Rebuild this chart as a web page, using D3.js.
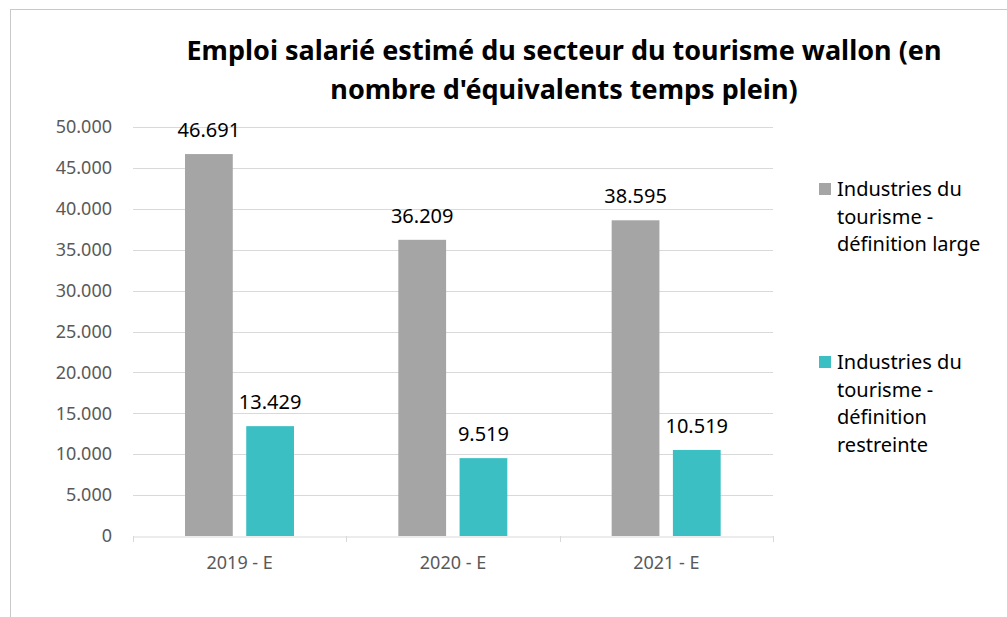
<!DOCTYPE html>
<html>
<head>
<meta charset="utf-8">
<script src="https://cdn.jsdelivr.net/npm/d3@7"></script>
<style>
  body { margin: 0; background: #fff; }
  svg { display: block; font-family: "Noto Sans", "Open Sans", sans-serif; }
</style>
</head>
<body>
<svg id="chart" width="1007" height="617"></svg>
<script>
// categories & series
const years = ["2019 - E", "2020 - E", "2021 - E"]
const seriesNames = ["Industries du tourisme - définition large", "Industries du tourisme - définition restreinte"]
const large = [46691, 36209, 38595]
const restreinte = [13429, 9519, 10519]
const yTicks = [0, 5000, 10000, 15000, 20000, 25000, 30000, 35000, 40000, 45000, 50000]
const titleLines = ["Emploi salarié estimé du secteur du tourisme wallon (en", "nombre d'équivalents temps plein)"]
const legendLines = [["Industries du", "tourisme -", "définition large"], ["Industries du", "tourisme -", "définition", "restreinte"]]

const colors = ["#a5a5a5", "#3bbfc3"]
const fmt = d3.format(",d")
const dotted = v => fmt(v).replace(/,/g, ".")

const svg = d3.select("#chart")

// outer frame of the chart object
svg.append("rect")
  .attr("x", 10.5).attr("y", 9.5)
  .attr("width", 1010).attr("height", 620)
  .attr("fill", "none").attr("stroke", "#c9c9c9")

// title
svg.append("text")
  .attr("text-anchor", "middle")
  .attr("font-weight", "bold")
  .attr("font-size", 27)
  .attr("fill", "#000")
  .selectAll("tspan")
  .data(titleLines)
  .join("tspan")
    .attr("x", 564)
    .attr("y", (d, i) => 60 + i * 39)
    .text(d => d)

const plot = { left: 133, right: 773, top: 127, bottom: 536 }

const x0 = d3.scaleBand().domain(years).range([plot.left, plot.right]).padding(0)
const x1 = d3.scaleBand().domain([0, 1]).range([52, 161]).paddingInner(0.22)
const y = d3.scaleLinear().domain([0, 50000]).range([plot.bottom, plot.top])

// gridlines
svg.append("g")
  .selectAll("line")
  .data(yTicks.filter(t => t > 0))
  .join("line")
    .attr("x1", plot.left).attr("x2", plot.right)
    .attr("y1", d => Math.round(y(d)) + 0.5).attr("y2", d => Math.round(y(d)) + 0.5)
    .attr("stroke", "#d9d9d9")

// y axis labels
const yAxis = svg.append("g")
  .attr("transform", `translate(${plot.left},0)`)
  .call(d3.axisLeft(y).tickValues(yTicks).tickFormat(dotted).tickSize(0).tickPadding(21))
yAxis.select(".domain").remove()
yAxis.selectAll("text")
  .attr("font-size", 18).attr("fill", "#595959")
  .attr("font-family", "Noto Sans, sans-serif")

// bars
const rows = years.map((c, i) => ({ cat: c, vals: [large[i], restreinte[i]] }))
const groups = svg.append("g")
  .selectAll("g")
  .data(rows)
  .join("g")
    .attr("transform", d => `translate(${x0(d.cat)},0)`)

groups.selectAll("rect")
  .data(d => d.vals.map((v, k) => ({ v, k })))
  .join("rect")
    .attr("x", d => x1(d.k))
    .attr("width", x1.bandwidth())
    .attr("y", d => y(d.v))
    .attr("height", d => y(0) - y(d.v))
    .attr("fill", d => colors[d.k])

groups.selectAll("text")
  .data(d => d.vals.map((v, k) => ({ v, k })))
  .join("text")
    .attr("x", d => x1(d.k) + x1.bandwidth() / 2)
    .attr("y", d => y(d.v) - 17)
    .attr("text-anchor", "middle")
    .attr("font-size", 20)
    .attr("fill", "#000")
    .text(d => dotted(d.v))

// x axis
const xAxis = svg.append("g")
  .attr("transform", `translate(0,${plot.bottom + 0.5})`)
  .call(d3.axisBottom(x0).tickSize(0).tickPadding(20))
xAxis.select(".domain").attr("stroke", "#d9d9d9")
xAxis.selectAll("text")
  .attr("font-size", 18).attr("fill", "#595959")
  .attr("font-family", "Noto Sans, sans-serif")
// category separator ticks
svg.append("g")
  .selectAll("line")
  .data(years.map(c => x0(c)).concat([plot.right]))
  .join("line")
    .attr("x1", d => Math.round(d) + 0.5).attr("x2", d => Math.round(d) + 0.5)
    .attr("y1", plot.bottom).attr("y2", plot.bottom + 6)
    .attr("stroke", "#d9d9d9")

// legend
const legendTop = [183, 356]
const legend = svg.append("g")
  .selectAll("g")
  .data(seriesNames)
  .join("g")
    .attr("transform", (d, i) => `translate(819,${legendTop[i]})`)
legend.append("rect")
  .attr("width", 12).attr("height", 12)
  .attr("fill", (d, i) => colors[i])
legend.append("text")
  .attr("font-size", 20).attr("fill", "#000")
  .selectAll("tspan")
  .data((d, i) => legendLines[i])
  .join("tspan")
    .attr("x", 18)
    .attr("y", (d, j) => 13 + j * 27.5)
    .text(d => d)
</script>
</body>
</html>
